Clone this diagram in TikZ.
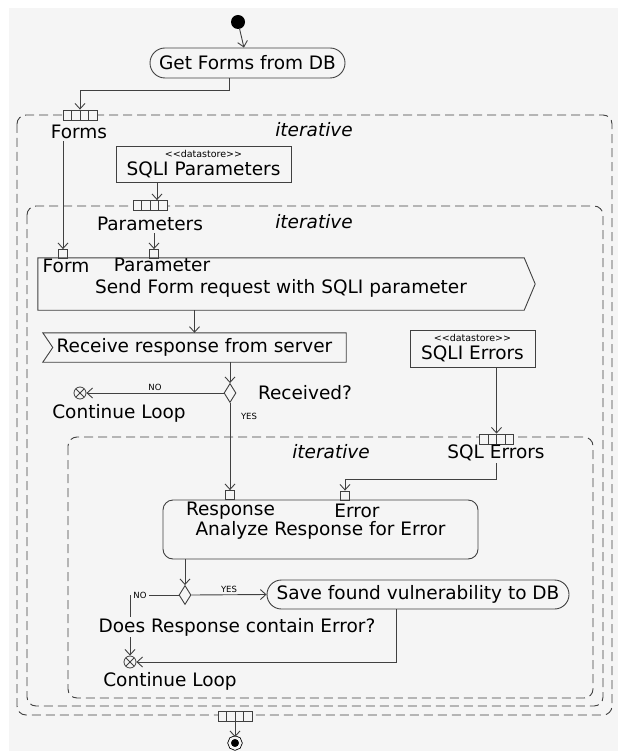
\documentclass[tikz,border=0pt]{standalone}
\usepackage{fontspec}
\setmainfont{DejaVu Sans}
\usetikzlibrary{positioning, shapes.geometric, shapes.misc, arrows.meta, calc}

\definecolor{bgcol}{HTML}{F5F5F5}
\definecolor{linecol}{HTML}{404040}
\newcommand\dsfont{\fontsize{9.5}{10}\selectfont}
\newcommand\dstag{<\kern0pt<datastore>\kern0pt>}

\begin{document}
\begin{tikzpicture}[
    x=1pt, y=-1pt,
    every node/.style={font=\fontsize{18.5}{21}\selectfont, text=black, inner sep=2pt},
    action/.style={rounded rectangle, draw=linecol, line width=0.9pt, inner sep=0pt},
    box/.style={rectangle, draw=linecol, line width=0.9pt, inner sep=0pt, rounded corners=10pt},
    store/.style={rectangle, draw=linecol, line width=0.9pt, inner sep=0pt, align=center},
    pin/.style={rectangle, draw=linecol, line width=0.8pt, fill=bgcol, minimum size=9pt, inner sep=0pt},
    expin/.style={rectangle, draw=linecol, line width=0.8pt, fill=bgcol, minimum width=34pt,
        minimum height=10pt, inner sep=0pt,
        path picture={\foreach \k in {0.25,0.5,0.75}
            \draw[linecol, line width=0.8pt]
                ($(path picture bounding box.north west)!\k!(path picture bounding box.north east)$) --
                ($(path picture bounding box.south west)!\k!(path picture bounding box.south east)$);}},
    decision/.style={diamond, draw=linecol, fill=bgcol, line width=0.9pt, inner sep=0pt,
        minimum width=12pt, minimum height=19pt},
    flowend/.style={circle, draw=linecol, fill=bgcol, line width=0.8pt, minimum size=12pt, inner sep=0pt,
        path picture={\draw[linecol, line width=0.8pt]
            (path picture bounding box.north west) -- (path picture bounding box.south east)
            (path picture bounding box.north east) -- (path picture bounding box.south west);}},
    initial/.style={circle, fill=black, minimum size=14pt, inner sep=0pt},
    final/.style={circle, draw=black, fill=black, minimum size=11pt, inner sep=0pt,
        line width=0.8pt, double=bgcol, double distance=2.5pt},
    line/.style={draw=linecol, line width=0.9pt},
    flow/.style={line, -{Straight Barb[length=5.5pt, width=10pt]}},
    region/.style={draw=linecol, line width=0.9pt, dash pattern=on 9pt off 5pt, rounded corners=9pt},
    tag/.style={font=\fontsize{8.5}{10}\selectfont},
    iter/.style={font=\fontsize{18.5}{21}\selectfont\itshape}
]
    % background
    \fill[bgcol] (9,8) rectangle (618,751);
    \useasboundingbox (0,0) rectangle (618,751);

    % expansion regions
    \draw[region] (17,115) rectangle (612,715);
    \draw[region] (27,206) rectangle (603,706);
    \draw[region] (68,437) rectangle (593,698);

    % outer loop
    \node[initial] (init) at (238,22) {};
    \node[action, minimum width=195pt, minimum height=30pt] (getforms) at (247.5,63) {Get Forms from DB};
    \node[expin] (formspin) at (80,115) {};
    \node (formslbl) at (79,132) {Forms};
    \node[iter] (iterA) at (314,130) {iterative};
    \node[store, minimum width=175pt, minimum height=36pt] (paramstore) at (203.5,164)
        {{\dsfont\dstag}\\[-3pt]SQLI Parameters};

    % middle loop
    \node[expin] (parampin) at (150,205.5) {};
    \node (paramlbl) at (150,224) {Parameters};
    \node[iter] (iterB) at (314,222) {iterative};
    \node[pin] (pinform) at (63,254) {};
    \node[pin] (pinparam) at (154,254) {};
    \node[minimum width=486pt, minimum height=52pt, inner sep=0pt] (send) at (281,284) {};
    \node (sendtxt) at (281,288) {Send Form request with SQLI parameter};
    \node (formtxt) at (66,266) {Form};
    \node (paramtxt) at (162,265) {Parameter};
    \node[minimum width=303pt, minimum height=29pt, inner sep=0pt] (recv) at (194.5,347.5)
        {Receive response from server};
    \node[decision] (decA) at (230,393) {};
    \node[flowend] (endA) at (80,393) {};
    \node (loopA) at (119,413) {Continue Loop};
    \node (recvq) at (305,393) {Received?};
    \node[tag] (yesA) at (249,416) {YES};
    \node[store, minimum width=125pt, minimum height=37pt] (errstore) at (472.5,348.5)
        {{\dsfont\dstag}\\[-3pt]SQLI Errors};

    % inner loop
    \node[expin] (errpin) at (496.5,439) {};
    \node[iter] (iterC) at (331,452) {iterative};
    \node (errlbl) at (496,453) {SQL Errors};
    \node[pin] (pinresp) at (230,495) {};
    \node[pin] (pinerr) at (345,495.5) {};
    \node[box, minimum width=315pt, minimum height=59pt] (analyze) at (320.5,529.5) {};
    \node (analyzetxt) at (320.5,530) {Analyze Response for Error};
    \node (resptxt) at (230.5,511) {Response};
    \node (errtxt) at (357,511) {Error};
    \node[decision] (decB) at (185,595) {};
    \node[action, minimum width=302pt, minimum height=29pt] (save) at (418,594.5)
        {Save found vulnerability to DB};
    \node[flowend] (endB) at (130,662) {};
    \node (loopB) at (170,681) {Continue Loop};

    \node[expin] (outpin) at (235,716) {};
    \node[final] (final) at (235,743) {};

    % send / receive signal outlines
    \draw[line] (send.north west) -- (send.north east) -- ([xshift=11pt]send.east)
        -- (send.south east) -- (send.south west) -- cycle;
    \draw[line] (recv.north west) -- (recv.north east) -- (recv.south east)
        -- (recv.south west) -- ([xshift=10pt]recv.west) -- cycle;

    % flows
    \draw[flow] (init) -- (getforms);
    \draw[flow] ([xshift=-18pt]getforms.south) -- ++(0,12) -| (formspin.north);
    \draw[flow] (pinform |- formslbl.south) -- (pinform.north);
    \draw[flow] ([xshift=7pt]parampin.north |- paramstore.south) -- ([xshift=7pt]parampin.north);
    \draw[flow] (pinparam |- paramlbl.south) -- (pinparam.north);
    \draw[flow] (send.south -| recv) -- (recv.north);
    \draw[flow] (recv.south -| decA) -- (decA.north);
    \draw[flow] (decA.west) -- node[tag, above] {NO} (endA.east);
    \draw[flow] (decA.south) -- (pinresp.north);
    \draw[flow] (errstore.south -| errpin) -- (errpin.north);
    \draw[flow] (errlbl.south) -- ++(0,16) -| (pinerr.north);
    \draw[flow] (analyze.south -| decB) -- (decB.north);
    \draw[flow] (decB.east) -- node[tag, above] {YES} (save.west);
    \draw[flow] (decB.west) -| (endB.north);
    \draw[flow] ([xshift=-22pt]save.south) |- (endB.east);
    \draw[flow] (outpin) -- (final);

    % labels over the NO flow
    \node[tag, fill=bgcol] (noB) at (140,595) {NO};
    \node[fill=bgcol, inner sep=1pt] (doesq) at (237,627) {Does Response contain Error?};
\end{tikzpicture}
\end{document}
